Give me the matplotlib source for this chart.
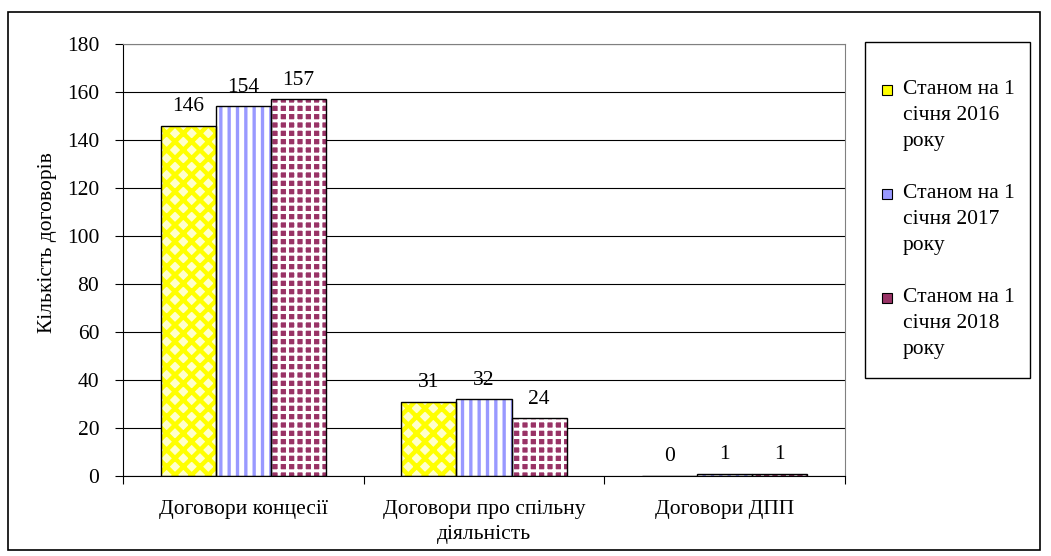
import numpy as np
import matplotlib
matplotlib.use('Agg')
import matplotlib.pyplot as plt
from matplotlib.patches import Rectangle

plt.rcParams['font.family'] = ['Liberation Serif', 'DejaVu Serif']

categories = ['Договори концесії', 'Договори про спільну\nдіяльність', 'Договори ДПП']
series_names = ['Станом на 1\nсічня 2016\nроку', 'Станом на 1\nсічня 2017\nроку', 'Станом на 1\nсічня 2018\nроку']
v2016 = [146, 31, 0]
v2017 = [154, 32, 1]
v2018 = [157, 24, 1]
values = [v2016, v2017, v2018]

# face colour, hatch colour, hatch, hatch width
styles = [
    ('#FFFFCC', '#FFFF00', 'xx', 3.2),
    ('#FFFFFF', '#9999FF', '||', 2.4),
    ('#993366', '#FFFFFF', '++', 2.2),
]
swatch_cols = ['#FFFF00', '#9999FF', '#993366']

fs = 15.5

fig = plt.figure(figsize=(10.51, 5.56), dpi=100)
ax = fig.add_axes([0.117, 0.144, 0.687, 0.777])

x = np.arange(len(categories))
w = 0.229
for i, vals in enumerate(values):
    face, hcol, hatch, hw = styles[i]
    pos = x + (i - 1) * w
    with plt.rc_context({'hatch.linewidth': hw}):
        ax.bar(pos, vals, w, color=face, edgecolor=hcol, hatch=hatch, linewidth=0, zorder=2)
    ax.bar(pos, vals, w, fill=False, edgecolor='black', linewidth=1, zorder=3)
    for p, v in zip(pos, vals):
        ax.text(p, v + 4, str(v), ha='center', va='bottom', fontsize=fs)

ax.set_ylim(0, 180)
ax.set_yticks(range(0, 181, 20))
ax.set_xlim(-0.5, 2.5)
ax.set_xticks([-0.5, 0.5, 1.5, 2.5])
ax.set_xticklabels([])
ax.set_xticks(x, minor=True)
ax.set_xticklabels(categories, minor=True, fontsize=fs, linespacing=1.45)
ax.tick_params(axis='x', which='minor', length=0, pad=17)
ax.tick_params(axis='x', which='major', length=6, direction='out')
ax.tick_params(axis='y', length=6, direction='out', labelsize=fs, pad=11)
ax.yaxis.grid(True, color='black', linewidth=0.8, zorder=0)
ax.set_axisbelow(True)
for s in ['top', 'right']:
    ax.spines[s].set_color('#808080')
ax.set_ylabel('Кількість договорів', fontsize=15.5)
ax.yaxis.set_label_coords(-0.092, 0.54)

# legend box, entries with swatch beside the first line of text
fig.patches.append(Rectangle((865 / 1051, 1 - 378 / 556), 165 / 1051, 336 / 556,
                             transform=fig.transFigure, fill=False,
                             edgecolor='black', linewidth=1.0))
for i, name in enumerate(series_names):
    ytop = 80 + i * 104
    fig.patches.append(Rectangle((882 / 1051, 1 - (ytop + 15) / 556), 10 / 1051, 10 / 556,
                                 transform=fig.transFigure, facecolor=swatch_cols[i],
                                 edgecolor='black', linewidth=0.8))
    fig.text(903 / 1051, 1 - ytop / 556, name, ha='left', va='top', fontsize=fs,
             linespacing=1.5)

fig.patches.append(Rectangle((8 / 1051, 6 / 556), 1032 / 1051, 538 / 556, transform=fig.transFigure,
                             fill=False, edgecolor='black', linewidth=1.2))

fig.savefig('out.png', dpi=100)
